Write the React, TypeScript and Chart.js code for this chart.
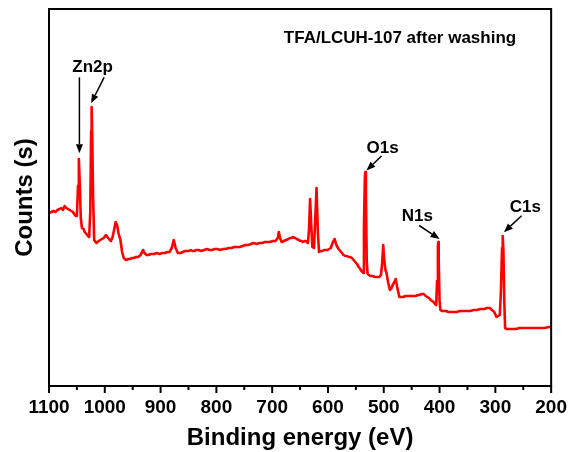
import React, { useEffect, useRef } from "react";
import { Chart, registerables } from "chart.js";

Chart.register(...registerables);

// Binding energy (eV) and counts (arbitrary units)
const energies = [
  1100, 1096, 1092, 1088, 1085, 1081, 1078, 1075, 1072, 1069, 1066, 1063, 1060, 1057, 1055, 1052,
  1050, 1048, 1046.5, 1045, 1043, 1041, 1038, 1036, 1033, 1030, 1028, 1026, 1024.5, 1023.6, 1022.5,
  1021, 1019, 1015, 1011, 1008, 1005, 1002, 998, 994, 991, 989, 986, 983, 980.5, 978, 975.5, 972,
  969, 966, 962, 958, 955, 951, 948, 944, 940, 936, 934, 931.5, 929, 925, 922, 917, 912, 907, 902,
  897, 892, 888, 884, 880, 876.5, 873, 869, 864, 860, 856, 852, 849, 846, 843, 840, 836, 832, 827,
  822, 817, 812, 808, 803, 798, 793, 788, 783, 778, 773, 768, 763, 758, 753, 748, 743, 738, 733,
  728, 723, 718, 713, 708, 704, 699, 694, 690, 688, 686, 683, 679, 675, 671, 668, 665, 663, 659,
  656, 652, 650, 647, 645, 642, 640, 638, 636, 634, 632, 630, 628, 625, 623, 620.5, 618, 616, 613,
  610, 607, 604, 601, 598, 595, 591, 588, 585, 581, 578, 575, 572, 569, 566, 563, 560, 557, 554,
  551, 548, 545, 542, 540, 537, 535.5, 533.8, 533, 532, 530.5, 529, 524, 520, 516, 512, 508, 505,
  503, 501, 499.5, 497, 495, 492, 489, 486, 484, 481, 478.5, 476, 472, 468, 465, 461, 458, 454, 451,
  447, 443, 439, 436, 432, 428, 425, 422, 419, 416, 413, 411, 408, 406, 404.5, 403, 402.4, 401.5,
  400, 398.5, 395, 391, 388, 384, 380, 375, 369, 364, 358, 352, 345, 339, 333, 327, 320, 315, 310,
  306, 302, 298, 295, 292, 290, 288, 286.8, 285.5, 284, 282.5, 279, 276, 270, 263, 257, 250, 243,
  235, 228, 220, 212, 204, 200,
];
const counts = [
  173, 174, 175, 174, 176, 177, 178, 176, 180, 178, 177, 176, 175, 174, 172, 170,
  170, 200, 227, 205, 168, 158, 157, 154, 152, 150, 149, 175, 255, 279, 250,
  190, 146, 143, 145, 146, 147, 148, 151, 148, 146, 145, 149, 157, 164, 161, 153, 146,
  134, 128, 126, 127, 127, 128, 128, 129, 129, 131, 133, 136, 133, 131, 131, 132, 132, 133, 132,
  133, 133, 134, 134, 138, 146, 138, 133, 133, 134, 135, 135, 135, 136, 135, 135, 136, 136, 135,
  136, 137, 136, 136, 137, 137, 136, 137, 137, 138, 138, 139, 139, 139, 140, 141, 141, 142, 143,
  142, 143, 143, 144, 144, 144, 145, 145, 148, 154, 148, 144, 145, 146, 147, 148, 148, 149, 148,
  147, 146, 145, 145, 144, 145, 145, 144, 143, 156, 187, 161, 139, 138, 165, 198, 152, 134, 135,
  135, 136, 136, 136, 137, 138, 144, 147, 141, 137, 135, 133, 131, 130, 130, 129, 129, 128, 126,
  124, 122, 119, 117, 115, 113, 160, 210, 214, 190, 125, 112, 110, 110, 109, 109, 109, 111,
  122, 141, 128, 116, 113, 103, 96, 98, 101, 104, 107, 99, 89, 89, 89, 90, 90, 90, 90,
  90, 90, 91, 91, 92, 92, 90, 89, 88, 86, 85, 84, 82, 81, 105, 140, 144, 125,
  85, 76, 75, 75, 75, 74, 74, 74, 74, 75, 75, 75, 75, 76, 76, 77, 77, 78, 78,
  76, 74, 69, 70, 71, 95, 138, 150, 135, 85, 58, 57, 57, 57, 57, 58, 58, 58,
  58, 58, 58, 58, 59, 59,
];

// Axis tick labels (every 100 eV); minor ticks every 50 eV
const majorTicks = [1100, 1000, 900, 800, 700, 600, 500, 400, 300, 200];

// Peak annotations (in data coordinates: eV, counts)
const peakLabels = ["Zn2p", "O1s", "N1s", "C1s"];
const labelEnergy = [1021.8, 502, 440, 246.4];
const labelCount = [314, 233, 165.5, 174];
const arrowFromE = [1045.5, 1001.2, 504.1, 436.5, 253];
const arrowFromC = [308.7, 308.7, 230, 160.5, 170.3];
const arrowToE = [1045.5, 1024.6, 531, 400, 284.7];
const arrowToC = [232.7, 282.7, 215.5, 147, 153.7];

const titleText = "TFA/LCUH-107 after washing";
const titleE = 470.9;
const titleC = 343;

const FONT = "'Liberation Sans', Arial, sans-serif";

const decorPlugin = {
  id: "decor",
  afterDraw(chart: any) {
    const { ctx, chartArea } = chart;
    const xs = chart.scales.x;
    const ys = chart.scales.y;
    ctx.save();
    // frame
    ctx.strokeStyle = "#000";
    ctx.lineWidth = 2;
    ctx.strokeRect(chartArea.left, chartArea.top, chartArea.right - chartArea.left, chartArea.bottom - chartArea.top);
    // x tick marks
    xs.ticks.forEach((t: any) => {
      const px = xs.getPixelForValue(t.value);
      const len = majorTicks.includes(t.value) ? 7 : 4;
      ctx.beginPath();
      ctx.moveTo(px, chartArea.bottom);
      ctx.lineTo(px, chartArea.bottom + len);
      ctx.stroke();
    });
    // labels
    ctx.fillStyle = "#000";
    ctx.font = `bold 17px ${FONT}`;
    ctx.textAlign = "center";
    ctx.textBaseline = "alphabetic";
    peakLabels.forEach((lab, i) => {
      ctx.fillText(lab, xs.getPixelForValue(labelEnergy[i]), ys.getPixelForValue(labelCount[i]));
    });
    ctx.fillText(titleText, xs.getPixelForValue(titleE), ys.getPixelForValue(titleC));
    // arrows
    ctx.lineWidth = 1.5;
    arrowFromE.forEach((e, i) => {
      const x1 = xs.getPixelForValue(e);
      const y1 = ys.getPixelForValue(arrowFromC[i]);
      const x2 = xs.getPixelForValue(arrowToE[i]);
      const y2 = ys.getPixelForValue(arrowToC[i]);
      const ang = Math.atan2(y2 - y1, x2 - x1);
      const hl = 9;
      const hw = 3.5;
      const bx = x2 - hl * Math.cos(ang);
      const by = y2 - hl * Math.sin(ang);
      ctx.beginPath();
      ctx.moveTo(x1, y1);
      ctx.lineTo(bx, by);
      ctx.stroke();
      ctx.beginPath();
      ctx.moveTo(x2, y2);
      ctx.lineTo(bx + hw * Math.sin(ang), by - hw * Math.cos(ang));
      ctx.lineTo(bx - hw * Math.sin(ang), by + hw * Math.cos(ang));
      ctx.closePath();
      ctx.fill();
    });
    ctx.restore();
  },
};

export default function App() {
  const ref = useRef<HTMLCanvasElement>(null);
  useEffect(() => {
    if (!ref.current) return;
    const points = energies.map((e, i) => ({ x: e, y: counts[i] }));
    const chart = new Chart(ref.current, {
      type: "line",
      data: {
        datasets: [
          {
            data: points,
            borderColor: "#ff0000",
            borderWidth: 2.6,
            borderJoinStyle: "round",
            pointRadius: 0,
            tension: 0,
            fill: false,
          },
        ],
      },
      options: {
        responsive: false,
        animation: false,
        layout: { padding: { top: 9, right: 18, left: 0, bottom: 0 } },
        plugins: { legend: { display: false }, tooltip: { enabled: false } },
        scales: {
          x: {
            type: "linear",
            reverse: true,
            min: 200,
            max: 1100,
            grid: { display: false, drawTicks: false },
            border: { display: false },
            ticks: {
              stepSize: 50,
              autoSkip: false,
              maxRotation: 0,
              padding: 10,
              color: "#000",
              font: { family: FONT, size: 19, weight: "bold" },
              callback: (v: any) => (majorTicks.includes(Number(v)) ? String(v) : ""),
            },
            title: {
              display: true,
              text: "Binding energy (eV)",
              color: "#000",
              font: { family: FONT, size: 24, weight: "bold", lineHeight: 1 },
              padding: { top: 0, bottom: 2 },
            },
            afterFit: (s: any) => {
              s.height = 66;
            },
          },
          y: {
            min: 0,
            max: 377,
            grid: { display: false, drawTicks: false },
            border: { display: false },
            ticks: { display: false },
            title: {
              display: true,
              text: "Counts (s)",
              color: "#000",
              font: { family: FONT, size: 24, weight: "bold", lineHeight: 1 },
              padding: { top: 13, bottom: 0 },
            },
            afterFit: (s: any) => {
              s.width = 49;
            },
          },
        },
      },
      plugins: [decorPlugin],
    });
    return () => chart.destroy();
  }, []);
  return (
    <div style={{ position: "fixed", left: 0, top: 0, width: 577, height: 452, background: "#fff" }}>
      <canvas ref={ref} width={577} height={452} style={{ display: "block" }} />
    </div>
  );
}
